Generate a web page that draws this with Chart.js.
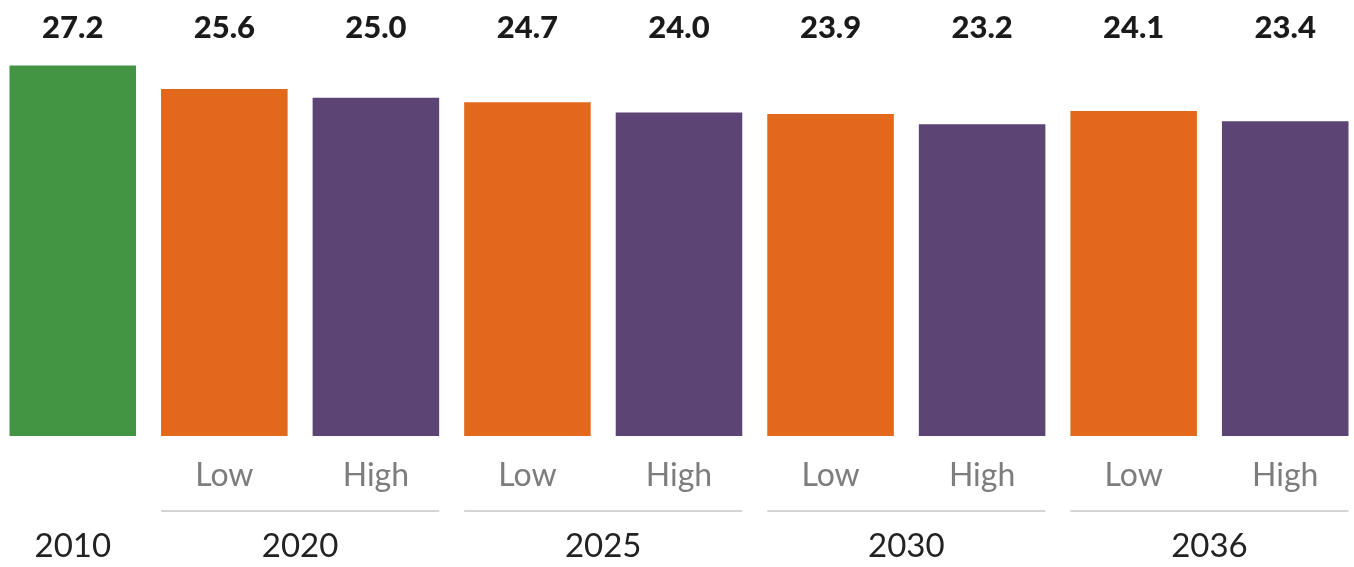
<!DOCTYPE html>
<html>
<head>
<meta charset="utf-8">
<script src="https://cdn.jsdelivr.net/npm/chart.js@4"></script>
<style>
  html, body { margin: 0; padding: 0; background: #ffffff; overflow: hidden; }
  #wrap { position: absolute; left: -3px; top: 0; width: 1364px; height: 567px; }
</style>
</head>
<body>
<div id="wrap"><canvas id="c" width="1364" height="567"></canvas></div>
<script>
// ---- data ----
const categories = ['', 'Low', 'High', 'Low', 'High', 'Low', 'High', 'Low', 'High'];
const values = [27.2, 25.6, 25.0, 24.7, 24.0, 23.9, 23.2, 24.1, 23.4];
const scenarios = ['Actual', 'Low', 'High', 'Low', 'High', 'Low', 'High', 'Low', 'High'];
const years = ['2010', '2020', '2025', '2030', '2036'];
const yearPositions = [0, 1.5, 3.5, 5.5, 7.5];   // category index centre of each year group
const groupPairs = [[1, 2], [3, 4], [5, 6], [7, 8]];

const scenarioColors = { Actual: '#439544', Low: '#e2681b', High: '#5c4574' };

const FONT = 'Lato, "Open Sans", sans-serif';

const separatorPlugin = {
  id: 'separators',
  afterDraw(chart) {
    const meta = chart.getDatasetMeta(0);
    const xs = chart.scales.x;
    const ctx = chart.ctx;
    ctx.save();
    ctx.strokeStyle = '#d4d4d4';
    ctx.lineWidth = 2;
    const y = xs.bottom - 1;
    groupPairs.forEach(([a, b]) => {
      const ea = meta.data[a], eb = meta.data[b];
      const left = ea.x - ea.width / 2;
      const right = eb.x + eb.width / 2;
      ctx.beginPath();
      ctx.moveTo(left, y);
      ctx.lineTo(right, y);
      ctx.stroke();
    });
    ctx.restore();
  }
};

new Chart(document.getElementById('c'), {
  type: 'bar',
  data: {
    labels: categories,
    datasets: [{
      data: values,
      backgroundColor: scenarios.map(s => scenarioColors[s]),
      borderWidth: 0,
      categoryPercentage: 1,
      barPercentage: 0.835,
      xAxisID: 'x',
      yAxisID: 'y'
    }]
  },
  options: {
    responsive: false,
    animation: false,
    devicePixelRatio: 1,
    layout: { padding: 0 },
    plugins: { legend: { display: false }, tooltip: { enabled: false } },
    scales: {
      y: {
        display: false,
        min: 2,
        max: 29
      },
      x: {
        type: 'category',
        position: 'bottom',
        weight: 0,
        grid: { display: false },
        border: { display: false },
        ticks: {
          color: '#7d7d7d',
          font: { family: FONT, size: 32, lineHeight: 1 },
          padding: 16,
          maxRotation: 0,
          autoSkip: false
        },
        afterFit(scale) { scale.height = 76; }
      },
      xYear: {
        type: 'linear',
        position: 'bottom',
        weight: 1,
        min: -0.5,
        max: categories.length - 0.5,
        offset: false,
        grid: { display: false },
        border: { display: false },
        afterBuildTicks(scale) { scale.ticks = yearPositions.map(v => ({ value: v })); },
        ticks: {
          color: '#222222',
          font: { family: FONT, size: 33, lineHeight: 1 },
          padding: 10,
          maxRotation: 0,
          autoSkip: false,
          callback(value) {
            const i = yearPositions.indexOf(value);
            return i >= 0 ? years[i] : '';
          }
        },
        afterFit(scale) { scale.height = 55; }
      },
      xTop: {
        type: 'category',
        position: 'top',
        labels: categories,
        grid: { display: false },
        border: { display: false },
        ticks: {
          color: '#1a1a1a',
          font: { family: FONT, size: 31, weight: '900', lineHeight: 1 },
          padding: -12.5,
          maxRotation: 0,
          autoSkip: false,
          callback(value, index) { return values[index].toFixed(1); }
        },
        afterFit(scale) { scale.height = 39; }
      }
    }
  },
  plugins: [separatorPlugin]
});
</script>
</body>
</html>
